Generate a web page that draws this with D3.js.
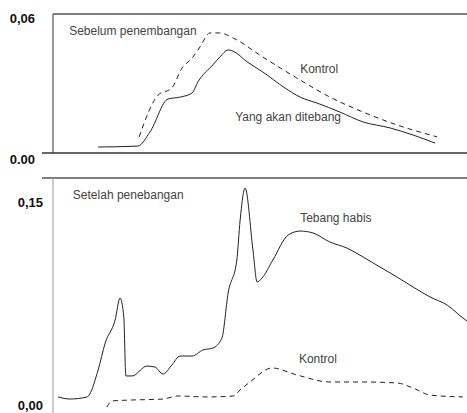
<!DOCTYPE html>
<html>
<head>
<meta charset="utf-8">
<script src="https://cdn.jsdelivr.net/npm/d3@7"></script>
<style>
  body { margin: 0; background: #fff; }
  svg { display: block; }
</style>
</head>
<body>
<svg width="467" height="413"></svg>
<script>
// waktu (indeks 0-100) dan nilai aliran
var topDitebangT = [10.9, 20.5, 23.4, 27.8, 30.7, 33.6, 35.0, 38.6, 40.3, 42.3, 43.5, 46.9, 50.7, 56.0, 59.7, 63.8, 69.3, 74.9, 81.4, 87.0, 92.3];
var topDitebangV = [0.0026, 0.0030, 0.0091, 0.0235, 0.0243, 0.0261, 0.0309, 0.0383, 0.0417, 0.0448, 0.0443, 0.0396, 0.0352, 0.0283, 0.0243, 0.0217, 0.0178, 0.0135, 0.0109, 0.0078, 0.0043];

var topKontrolT = [20.8, 25.4, 28.7, 31.2, 33.6, 35.5, 37.9, 40.3, 43.5, 50.7, 58.9, 66.9, 74.9, 83.1, 92.8];
var topKontrolV = [0.0070, 0.0252, 0.0283, 0.0370, 0.0413, 0.0461, 0.0522, 0.0522, 0.0500, 0.0417, 0.0326, 0.0243, 0.0178, 0.0122, 0.0070];

var botHabisT = [1.2, 4.1, 8.2, 10.9, 12.6, 15.0, 16.2, 17.1, 17.6, 19.1, 22.7, 24.6, 26.6, 28.7, 30.7, 33.6, 36.2, 38.6, 40.8, 42.3, 44.4, 45.2, 46.4, 48.3, 49.3, 50.5, 53.1, 56.8, 59.7, 62.8, 66.9, 71.0, 74.9, 79.0, 83.1, 87.0, 91.1, 95.2, 99.0, 100];
var botHabisV = [0.0044, 0.0029, 0.0044, 0.0240, 0.0437, 0.0604, 0.0764, 0.0626, 0.0197, 0.0197, 0.0269, 0.0262, 0.0211, 0.0277, 0.0342, 0.0342, 0.0386, 0.0400, 0.0473, 0.0801, 0.1041, 0.1332, 0.1565, 0.1114, 0.0881, 0.0910, 0.1041, 0.1223, 0.1252, 0.1238, 0.1172, 0.1128, 0.1063, 0.0990, 0.0917, 0.0844, 0.0772, 0.0713, 0.0619, 0.0597];

var botKontrolT = [13.0, 14.3, 19.3, 26.6, 30.2, 37.2, 43.5, 45.2, 47.6, 52.9, 58.9, 66.9, 74.9, 83.1, 87.0, 91.1, 99.0];
var botKontrolV = [-0.0029, 0.0015, 0.0022, 0.0029, 0.0051, 0.0044, 0.0051, 0.0095, 0.0153, 0.0255, 0.0204, 0.0153, 0.0153, 0.0146, 0.0109, 0.0058, 0.0044];

var topTicks = [0, 0.06], topTickLabels = ["0.00", "0,06"];
var botTicks = [0, 0.15], botTickLabels = ["0,00", "0,15"];

var topNotes = [
  {t: 3.9, v: 0.0513, text: "Sebelum penembangan"},
  {t: 59.7, v: 0.0348, text: "Kontrol"},
  {t: 44.0, v: 0.0139, text: "Yang akan ditebang"}
];
var botNotes = [
  {t: 4.8, v: 0.1485, text: "Setelah penebangan"},
  {t: 59.7, v: 0.1318, text: "Tebang habis"},
  {t: 59.4, v: 0.0291, text: "Kontrol"}
];

var svg = d3.select("svg"),
    width = +svg.attr("width"),
    height = +svg.attr("height");

var x = d3.scaleLinear().domain([0, 100]).range([53, 467]);
var yTop = d3.scaleLinear().domain([0, 0.06]).range([153, 15]);
var yBot = d3.scaleLinear().domain([0, 0.15]).range([403, 197]);

function pairs(ts, vs) {
  return ts.map(function(t, i) { return [t, vs[i]]; });
}

function panel(y, frameTop, frameBottom, ticks, labels, labelX, labelDy, bottomLine, frameColor) {
  var g = svg.append("g");
  // garis atas
  g.append("line")
    .attr("x1", bottomLine ? 53 : 42).attr("x2", width)
    .attr("y1", frameTop).attr("y2", frameTop)
    .attr("stroke", "#555").attr("stroke-width", 1.5);
  // garis kiri
  g.append("line")
    .attr("x1", x(0)).attr("x2", x(0))
    .attr("y1", frameTop).attr("y2", frameBottom)
    .attr("stroke", frameColor).attr("stroke-width", 1);
  if (bottomLine) {
    g.append("line")
      .attr("x1", 42).attr("x2", width)
      .attr("y1", y(0)).attr("y2", y(0))
      .attr("stroke", "#333").attr("stroke-width", 1.5);
  }
  g.selectAll("text.tick")
    .data(ticks)
    .enter()
    .append("text")
    .attr("class", "tick")
    .attr("x", labelX)
    .attr("y", function(d, i) { return y(d) + labelDy[i]; })
    .attr("text-anchor", "end")
    .attr("font-family", "Liberation Sans, Arial, sans-serif")
    .attr("font-weight", "bold")
    .attr("font-size", 13)
    .attr("fill", "#111")
    .text(function(d, i) { return labels[i]; });
  return g;
}

panel(yTop, 14, 153, topTicks, topTickLabels, 35, [11, 8], true, "#333");
panel(yBot, 178, 413, botTicks, botTickLabels, 43, [7, 10], false, "#999");

function curve(y, data, dashed) {
  svg.append("path")
    .datum(data)
    .attr("fill", "none")
    .attr("stroke", "#222")
    .attr("stroke-width", 1)
    .attr("stroke-dasharray", dashed ? "5,4" : null)
    .attr("d", d3.line()
      .curve(d3.curveMonotoneX)
      .x(function(d) { return x(d[0]); })
      .y(function(d) { return y(d[1]); }));
}

curve(yTop, pairs(topDitebangT, topDitebangV), false);
curve(yTop, pairs(topKontrolT, topKontrolV), true);
curve(yBot, pairs(botHabisT, botHabisV), false);
curve(yBot, pairs(botKontrolT, botKontrolV), true);

function notes(y, data) {
  svg.append("g")
    .selectAll("text")
    .data(data)
    .enter()
    .append("text")
    .attr("x", function(d) { return x(d.t); })
    .attr("y", function(d) { return y(d.v); })
    .attr("font-family", "Liberation Sans, Arial, sans-serif")
    .attr("font-size", 12)
    .attr("fill", "#444")
    .text(function(d) { return d.text; });
}

notes(yTop, topNotes);
notes(yBot, botNotes);
</script>
</body>
</html>
